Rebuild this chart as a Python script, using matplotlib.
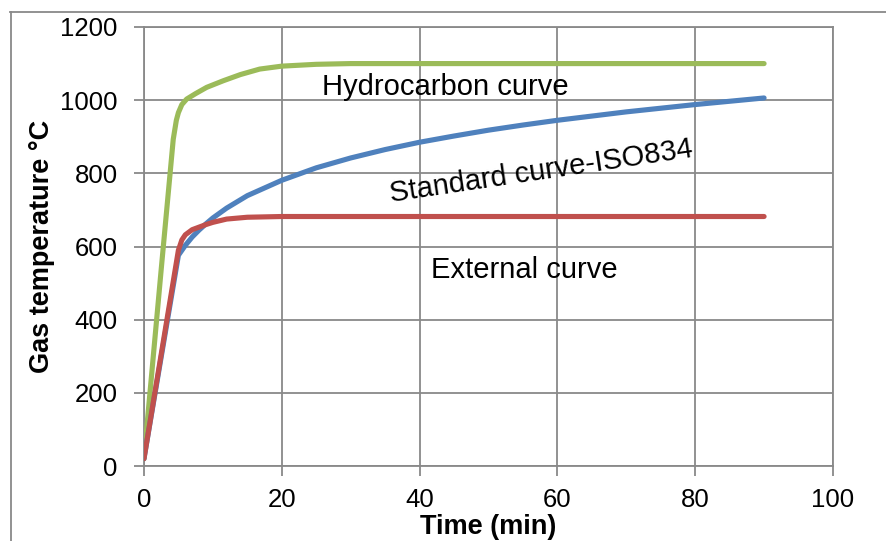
import matplotlib
matplotlib.use("Agg")
import matplotlib.pyplot as plt
from matplotlib.lines import Line2D

plt.rcParams["font.family"] = ["Liberation Sans", "DejaVu Sans"]

# Gas temperature (°C) against time (min) for the three fire curves
hydro_time = [0, 2.5, 4.25, 4.7, 5.0, 5.5, 6.2, 7.5, 9.1, 11.5, 14, 16.8, 20, 25, 30, 40, 60, 90]
hydro_temp = [20, 537, 893, 945, 966, 988, 1003, 1018, 1035, 1053, 1070, 1085, 1093, 1098,
              1100, 1100, 1100, 1100]

iso_time = [0, 5, 6, 7, 8, 9, 10, 12, 15, 20, 25, 30, 35, 40, 45, 50, 55, 60, 70, 80, 90]
iso_temp = [20, 576, 603, 626, 645, 662, 678, 705, 739, 781, 815, 842, 865,
            885, 902, 918, 932, 945, 968, 988, 1006]

ext_time = [0, 5, 5.5, 6, 7, 8, 9, 10, 12, 15, 20, 30, 60, 90]
ext_temp = [20, 590, 618, 632, 646, 653, 660, 666, 675, 680, 682, 682, 682, 682]

x_ticks = [0, 20, 40, 60, 80, 100]
y_ticks = [0, 200, 400, 600, 800, 1000, 1200]

GREEN = "#9BBB59"
BLUE = "#4F81BD"
RED = "#C0504D"
GRID = "#898989"

fig = plt.figure(figsize=(8.87, 5.41), dpi=100)
ax = fig.add_axes([0.1623, 0.1386, 0.9391 - 0.1623, 0.9501 - 0.1386])

ax.set_xlim(0, 100)
ax.set_ylim(0, 1200)
ax.set_xticks(x_ticks)
ax.set_yticks(y_ticks)
ax.grid(True, color=GRID, linewidth=1.3)
ax.set_axisbelow(True)
for s in ax.spines.values():
    s.set_color(GRID)
    s.set_linewidth(1.3)
ax.tick_params(axis="both", colors=GRID, length=7, width=1.3, labelcolor="black",
               labelsize=18.5)
ax.tick_params(axis="y", pad=12)
ax.tick_params(axis="x", pad=9)

lw = 3.7
ax.plot(hydro_time, hydro_temp, color=GREEN, lw=lw, solid_capstyle="round",
        solid_joinstyle="round", zorder=3)
ax.plot(iso_time, iso_temp, color=BLUE, lw=lw, solid_capstyle="round",
        solid_joinstyle="round", zorder=4)
ax.plot(ext_time, ext_temp, color=RED, lw=lw, solid_capstyle="round",
        solid_joinstyle="round", zorder=5)

ax.text(43.8, 1035, "Hydrocarbon curve", fontsize=21, ha="center", va="center", zorder=6)
ax.text(57.7, 805, "Standard curve-ISO834", fontsize=21, ha="center", va="center",
        rotation=8.5, rotation_mode="anchor", zorder=6)
ax.text(55.2, 537, "External curve", fontsize=21, ha="center", va="center", zorder=6)

ax.set_xlabel("Time (min)", fontsize=19.5, fontweight="bold", labelpad=1.5)
ax.set_ylabel("Gas temperature °C", fontsize=19.5, fontweight="bold", labelpad=4)

# outer chart-area border (top and left edges)
fig.add_artist(Line2D([10 / 887, 1.0], [1 - 12 / 541, 1 - 12 / 541],
                      transform=fig.transFigure, color=GRID, lw=1.3))
fig.add_artist(Line2D([11 / 887, 11 / 887], [0.0, 1 - 12 / 541],
                      transform=fig.transFigure, color=GRID, lw=1.3))

fig.savefig("out.png", dpi=100)
